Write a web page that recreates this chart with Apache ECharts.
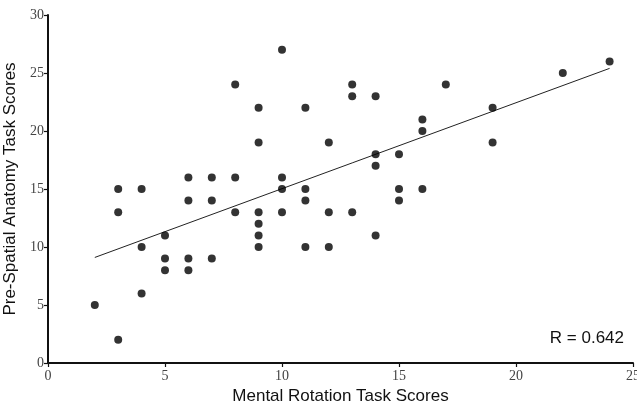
<!DOCTYPE html>
<html>
<head>
<meta charset="utf-8">
<script src="https://cdn.jsdelivr.net/npm/echarts@6/dist/echarts.min.js"></script>
<style>html,body{margin:0;padding:0;background:#fff;}#c{width:637px;height:403px;}</style>
</head>
<body>
<div id="c"></div>
<script>
var mentalRotation = [2,3,3,3,4,4,4,5,5,5,6,6,6,6,7,7,7,8,8,8,9,9,9,9,9,9,10,10,10,10,11,11,11,11,12,12,12,13,13,13,14,14,14,14,15,15,15,16,16,16,17,19,19,22,24];
var preSpatial   = [5,15,13,2,15,10,6,11,9,8,16,14,9,8,16,14,9,24,16,13,22,19,13,12,11,10,27,16,15,13,22,15,14,10,19,13,10,24,23,13,23,18,17,11,18,15,14,21,20,15,24,22,19,25,26];
var trendX = [2, 24];
var trendY = [9.1, 25.4];
var xTicks = [0,5,10,15,20,25];
var yTicks = [0,5,10,15,20,25,30];
var rLabel = 'R = 0.642';

var points = mentalRotation.map(function(x,i){return [x, preSpatial[i]];});
var trend = trendX.map(function(x,i){return [x, trendY[i]];});

var chart = echarts.init(document.getElementById('c'), null, {renderer:'canvas'});
var axisCommon = {
  type:'value',
  splitLine:{show:false},
  axisLine:{show:true, lineStyle:{color:'#111', width:2}},
  axisTick:{show:true, inside:false, length:4, lineStyle:{color:'#111', width:1.2}},
  axisLabel:{fontFamily:'Liberation Serif', fontSize:14, color:'#444'},
  nameTextStyle:{fontFamily:'Liberation Sans', fontSize:17, color:'#111'}
};
chart.setOption({
  animation:false,
  backgroundColor:'#fff',
  grid:{left:48, right:4, top:15, bottom:40, containLabel:false, outerBoundsMode:'none'},
  xAxis: Object.assign({}, axisCommon, {
    min:xTicks[0], max:xTicks[xTicks.length-1], interval:5,
    name:'Mental Rotation Task Scores', nameLocation:'middle', nameGap:18,
    axisLabel:Object.assign({}, axisCommon.axisLabel, {margin:6})
  }),
  yAxis: Object.assign({}, axisCommon, {
    min:yTicks[0], max:yTicks[yTicks.length-1], interval:5,
    name:'Pre-Spatial Anatomy Task Scores', nameLocation:'middle', nameGap:21,
    axisLabel:Object.assign({}, axisCommon.axisLabel, {margin:4})
  }),
  series:[
    {type:'line', data:trend, showSymbol:false, symbol:'none', lineStyle:{color:'#222', width:1}, silent:true, z:1},
    {type:'scatter', data:points, symbol:'circle', symbolSize:8, itemStyle:{color:'#000'}, z:2}
  ],
  graphic:[
    {type:'text', right:13, top:330, style:{text:rLabel, font:'17px "Liberation Sans"', fill:'#111'}}
  ]
});
</script>
</body>
</html>
